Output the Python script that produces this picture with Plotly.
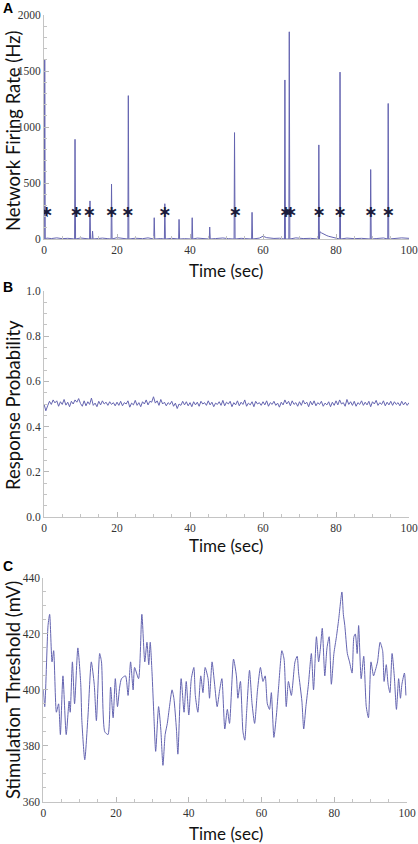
import plotly.graph_objects as go

# ---------------- Panel A data ----------------
spike_time = [0.2, 8.5, 12.6, 13.3, 18.5, 23.1, 30.2, 33.1, 37.0, 40.6, 45.4,
              52.2, 57.0, 66.0, 67.2, 75.3, 81.1, 89.5, 94.3]
spike_rate = [1600, 890, 340, 70, 490, 1280, 190, 315, 175, 190, 107,
              950, 238, 1420, 1850, 840, 1490, 620, 1210]
baseline_time = [0.8, 2, 3.5, 5, 6.5, 8, 10, 11.5, 14.5, 16, 17.5, 20, 21.5, 25, 27,
                 28.5, 32, 35, 38.5, 42, 44, 47, 49, 50.5, 54, 55.5, 59, 60, 61, 63,
                 64.5, 69, 71, 73, 83, 85, 87, 91, 93, 96, 98, 100]
baseline_rate = [8, 4, 10, 3, 6, 2, 9, 5, 4, 8, 3, 12, 5, 7, 3,
                 10, 4, 6, 3, 8, 5, 4, 9, 3, 6, 4, 8, 25, 12, 5,
                 7, 10, 4, 6, 8, 3, 6, 4, 9, 5, 10, 6]
tail_time = [75.6, 76.0, 76.5, 77.0, 77.5, 78.0, 79.0, 80.0, 81.0]
tail_rate = [65, 55, 45, 38, 30, 24, 16, 10, 6]
star_time = [0.7, 8.8, 12.4, 18.5, 22.9, 33.1, 52.4, 66.2, 67.5, 75.3, 81.1, 89.5, 94.3]
star_level = [235] * len(star_time)

# ---------------- Panel B data ----------------
prob_values = [
    0.500, 0.470, 0.492, 0.512, 0.498, 0.518, 0.505, 0.514, 0.490, 0.510,
    0.498, 0.520, 0.495, 0.508, 0.488, 0.512, 0.500, 0.518, 0.508, 0.524,
    0.502, 0.490, 0.514, 0.492, 0.510, 0.498, 0.526, 0.494, 0.504, 0.488,
    0.512, 0.496, 0.514, 0.500, 0.508, 0.494, 0.510, 0.498, 0.506, 0.492,
    0.508, 0.494, 0.512, 0.492, 0.506, 0.500, 0.514, 0.486, 0.504, 0.496,
    0.516, 0.494, 0.506, 0.488, 0.510, 0.500, 0.518, 0.496, 0.512, 0.508,
    0.532, 0.504, 0.514, 0.494, 0.520, 0.500, 0.508, 0.492, 0.506, 0.498,
    0.512, 0.490, 0.504, 0.480, 0.500, 0.494, 0.512, 0.496, 0.510, 0.492,
    0.506, 0.488, 0.510, 0.496, 0.508, 0.490, 0.512, 0.500, 0.506, 0.494,
    0.514, 0.496, 0.508, 0.488, 0.504, 0.498, 0.510, 0.494, 0.516, 0.492,
    0.508, 0.500, 0.512, 0.488, 0.506, 0.496, 0.514, 0.492, 0.508, 0.498,
    0.518, 0.490, 0.504, 0.496, 0.510, 0.488, 0.512, 0.500, 0.506, 0.494,
    0.510, 0.496, 0.514, 0.490, 0.506, 0.498, 0.512, 0.494, 0.504, 0.486,
    0.508, 0.496, 0.518, 0.500, 0.512, 0.492, 0.514, 0.498, 0.506, 0.490,
    0.510, 0.494, 0.516, 0.500, 0.508, 0.488, 0.512, 0.496, 0.514, 0.492,
    0.506, 0.498, 0.512, 0.490, 0.504, 0.496, 0.510, 0.488, 0.508, 0.494,
    0.514, 0.496, 0.518, 0.500, 0.506, 0.490, 0.520, 0.498, 0.510, 0.494,
    0.512, 0.490, 0.506, 0.498, 0.514, 0.494, 0.508, 0.496, 0.512, 0.488,
    0.510, 0.500, 0.516, 0.494, 0.506, 0.498, 0.514, 0.492, 0.508, 0.496,
    0.512, 0.494, 0.510, 0.498, 0.506, 0.492, 0.512, 0.496, 0.508, 0.494,
    0.506,
]
prob_time = [i * 0.5 for i in range(len(prob_values))]

# ---------------- Panel C data ----------------
thr_time = [0, 0.4, 1.3, 1.75, 2.4, 2.85, 3.6, 4.2, 4.7, 5.4, 6.3, 7.1, 7.4, 8.0, 8.6,
            9.5, 10.3, 10.6, 11.4, 12.3, 13.2, 14.0, 14.6, 15.5, 16.0, 16.9, 17.8,
            18.5, 19.2, 19.8, 20.4, 21.0, 21.5, 22.6, 23.3, 24.0, 24.7, 25.1, 26.2,
            27.1, 27.9, 28.5, 29.0, 29.4, 29.9, 30.4, 30.9, 31.7, 32.3, 32.9, 33.5,
            34.1, 34.7, 35.4, 35.9, 36.6, 37.0, 37.9, 38.7, 39.3, 40.0, 40.7, 41.4,
            41.8, 42.5, 43.3, 43.9, 44.5, 45.3, 45.7, 46.4, 47.1, 47.8, 48.5, 49.1,
            49.9, 50.6, 51.2, 52.3, 53.1, 53.5, 54.2, 54.9, 55.4, 55.9, 56.7, 57.4,
            58.1, 58.9, 59.7, 60.4, 61.0, 61.6, 62.2, 62.7, 63.4, 64.1, 64.7, 65.6,
            66.2, 66.8, 67.4, 68.2, 69.2, 69.8, 70.2, 71.1, 71.6, 72.2, 72.9, 73.7,
            74.3, 75.1, 75.7, 76.2, 76.7, 77.4, 78.0, 78.6, 79.2, 79.9, 80.6, 81.2,
            82.1, 82.5, 82.9, 83.6, 84.2, 84.9, 85.4, 85.8, 86.3, 86.7, 87.4, 88.1,
            88.8, 89.4, 90.1, 90.8, 91.3, 91.9, 92.6, 93.3, 93.7, 94.3, 94.8, 95.3,
            95.9, 96.5, 97.1, 97.7, 98.2, 98.6, 99.3, 99.7]
thr_values = [400, 394, 423, 427, 410, 414, 392, 395, 384, 405, 384, 396, 392, 410, 395,
              415, 402, 389, 375, 391, 410, 402, 389, 413, 410, 385, 384,
              401, 390, 404, 394, 401, 404, 405, 398, 410, 400, 408, 404,
              427, 410, 417, 409, 417, 406, 391, 378, 394, 386, 373, 384,
              388, 394, 400, 397, 386, 377, 404, 392, 403, 391, 404, 408,
              398, 392, 405, 399, 408, 404, 397, 410, 402, 394, 400, 404,
              386, 393, 388, 411, 405, 397, 403, 385, 382, 392, 407, 395,
              388, 400, 408, 403, 405, 395, 393, 399, 383, 391, 401, 414,
              411, 394, 403, 398, 410, 412, 406, 396, 386, 394, 402, 413,
              400, 419, 410, 415, 422, 405, 415, 419, 402, 413, 419, 425,
              435, 427, 423, 413, 410, 406, 419, 420, 413, 423, 404, 412,
              394, 390, 410, 405, 407, 410, 417, 414, 403, 409, 402, 399,
              413, 405, 393, 404, 397, 402, 406, 398]

# ---------------- Build panel A series ----------------
pts = list(zip(baseline_time, baseline_rate)) + list(zip(tail_time, tail_rate))
for t, h in zip(spike_time, spike_rate):
    pts += [(max(t - 0.12, 0), 0), (t, h), (t + 0.15, 0)]
pts.sort()
rate_time = [p[0] for p in pts]
rate_value = [p[1] for p in pts]

LINE = "#6464b0"
TICKFONT = dict(family="Liberation Serif", size=11.5, color="#333333")
XTITLEFONT = dict(family="Lato", size=17, color="#111111")
YTITLEFONT = dict(family="Lato", size=18.5, color="#111111")

fig = go.Figure()
fig.add_trace(go.Scatter(x=rate_time, y=rate_value, mode="lines",
                         line=dict(color=LINE, width=1), xaxis="x", yaxis="y"))
fig.add_trace(go.Scatter(x=star_time, y=star_level, mode="text", text=["∗"] * len(star_time),
                         textposition="middle center",
                         textfont=dict(family="DejaVu Sans", size=16, color="#1c1c3c",
                                       weight="bold"),
                         xaxis="x", yaxis="y"))
fig.add_trace(go.Scatter(x=prob_time, y=prob_values, mode="lines",
                         line=dict(color=LINE, width=1), xaxis="x2", yaxis="y2"))
fig.add_trace(go.Scatter(x=thr_time, y=thr_values, mode="lines",
                         line=dict(color=LINE, width=1, shape="spline", smoothing=0.6),
                         xaxis="x3", yaxis="y3"))

W, H = 418, 844


def xd(a, b):
    return [a / W, b / W]


def yd(top, bottom):
    return [1 - bottom / H, 1 - top / H]


common = dict(showline=True, linecolor="#c4c4c4", linewidth=1, ticks="inside",
              ticklen=5, tickcolor="#b8b8b8", showgrid=False, zeroline=False,
              tickfont=TICKFONT, automargin=False)


def xax(dom, anchor):
    return dict(domain=dom, anchor=anchor, range=[0, 100], dtick=20, tick0=0,
                minor=dict(dtick=5, ticks="inside", ticklen=3, tickcolor="#c4c4c4"),
                **common)


fig.update_layout(
    width=W, height=H, margin=dict(l=0, r=0, t=0, b=0, autoexpand=False),
    paper_bgcolor="white", plot_bgcolor="white", showlegend=False,
    xaxis=xax(xd(44, 409), "y"),
    yaxis=dict(domain=yd(15, 239), anchor="x", range=[0, 2000], dtick=500,
               minor=dict(dtick=100, ticks="inside", ticklen=3, tickcolor="#c4c4c4"),
               **common),
    xaxis2=xax(xd(44, 409), "y2"),
    yaxis2=dict(domain=yd(291, 517), anchor="x2", range=[0, 1], dtick=0.2,
                tickformat=".1f",
                minor=dict(dtick=0.05, ticks="inside", ticklen=3, tickcolor="#c4c4c4"),
                **common),
    xaxis3=xax(xd(43.3, 407), "y3"),
    yaxis3=dict(domain=yd(578, 801.7), anchor="x3", range=[360, 440], dtick=20,
                minor=dict(dtick=5, ticks="inside", ticklen=3, tickcolor="#c4c4c4"),
                **common),
)

ann = []
for txt, yc in [("Time (sec)", 271), ("Time (sec)", 545), ("Time (sec)", 833)]:
    ann.append(dict(text=txt, x=226 / W, y=1 - yc / H, xref="paper", yref="paper",
                    showarrow=False, xanchor="center", yanchor="middle", font=XTITLEFONT))
for txt, yc in [("Network Firing Rate (Hz)", 131), ("Response Probability", 405),
                ("Stimulation Threshold (mV)", 690)]:
    ann.append(dict(text=txt, x=13 / W, y=1 - yc / H, xref="paper", yref="paper",
                    showarrow=False, xanchor="center", yanchor="middle", textangle=-90,
                    font=YTITLEFONT))
for txt, yc in [("A", 8), ("B", 287), ("C", 566)]:
    ann.append(dict(text="<b>%s</b>" % txt, x=8 / W, y=1 - yc / H, xref="paper", yref="paper",
                    showarrow=False, xanchor="center", yanchor="middle",
                    font=dict(family="Liberation Sans", size=14, color="#000000")))
fig.update_layout(annotations=ann)

fig.write_html(
    "out.html",
    config={"displayModeBar": False},
    post_script="document.body.style.margin='0';document.body.style.overflow='hidden';",
)
